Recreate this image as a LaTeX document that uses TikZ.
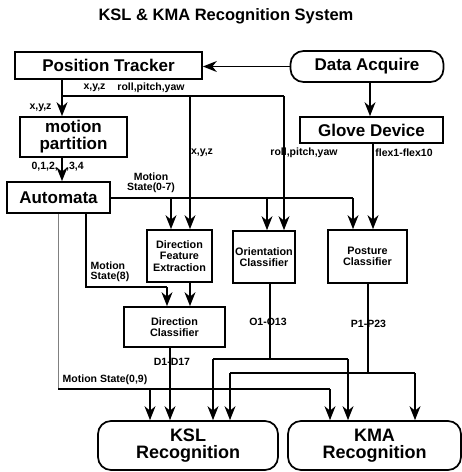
\documentclass[tikz,border=0pt]{standalone}
\usepackage{fontspec}
\setmainfont{Liberation Sans}
\usetikzlibrary{arrows.meta,calc}
\begin{document}
\begin{tikzpicture}[x=1pt,y=-1pt,
  box/.style={draw,line width=1.7pt,inner sep=0pt,align=center},
  bigtxt/.style={font=\fontsize{17}{17}\selectfont\bfseries},
  rectxt/.style={font=\fontsize{18}{17}\selectfont\bfseries},
  midtxt/.style={font=\fontsize{10.8}{11.5}\selectfont\bfseries},
  lbl/.style={font=\fontsize{10.5}{10.5}\selectfont\bfseries,inner sep=0pt,align=left},
  ln/.style={line width=1.4pt},
  arr/.style={ln,-{Stealth[length=14pt,width=11pt,inset=4.5pt]}},
  rbox/.style={box,rounded corners=13pt}
]
\useasboundingbox (0,0) rectangle (462,472);

\node[font=\fontsize{16.5}{17}\selectfont\bfseries] (title) at (226,16) {KSL \& KMA Recognition System};

\node[box,bigtxt,minimum width=187pt,minimum height=27pt] (pt) at (108.5,65.5) {Position Tracker};
\node[rbox,bigtxt,minimum width=153pt,minimum height=31pt] (da) at (367,66.5) {Data Acquire};
\node[box,bigtxt,minimum width=143pt,minimum height=26pt] (gd) at (371.5,130) {Glove Device};
\node[box,bigtxt,minimum width=107pt,minimum height=40pt] (mp) at (73.5,137) {motion\\partition};
\node[box,bigtxt,minimum width=103pt,minimum height=31pt] (au) at (58.5,197.5) {Automata};
\node[box,midtxt,minimum width=65pt,minimum height=52pt] (dfe) at (179.5,256) {Direction\\Feature\\Extraction};
\node[box,midtxt,minimum width=62pt,minimum height=52pt] (oc) at (264,257) {Orientation\\Classifier};
\node[box,midtxt,minimum width=79pt,minimum height=53pt] (pc) at (367.5,256.5) {Posture\\Classifier};
\node[box,midtxt,minimum width=101pt,minimum height=40pt] (dc) at (174.5,327) {Direction\\Classifier};
\node[rbox,rectxt,minimum width=180pt,minimum height=49pt] (ksl) at (188,445.5) {KSL\\Recognition};
\node[rbox,rectxt,minimum width=173pt,minimum height=49pt] (kma) at (374.5,445.5) {KMA\\Recognition};

% guide coordinates
\coordinate (j1) at (62,96);
\coordinate (j2) at (190,96);
\coordinate (j3) at (284,96);
\coordinate (xda) at (370,0);
\coordinate (xgd) at (373,0);
\coordinate (b1) at (171,198);
\coordinate (b2) at (267,198);
\coordinate (b3) at (353,198);
\coordinate (a8) at (86,287);
\coordinate (a8b) at (167,287);
\coordinate (g1) at (58,389);
\coordinate (g2) at (150,389);
\coordinate (g3) at (330,389);
\coordinate (xd) at (170,0);
\coordinate (o0) at (270,359);
\coordinate (o1) at (213,359);
\coordinate (o2) at (348,359);
\coordinate (p0) at (368,373);
\coordinate (p1) at (230,373);
\coordinate (p2) at (415,373);

% data acquire
\draw[arr] (da.west) -- (da.west -| pt.east);
\draw[arr] (da.south -| xda) -- (gd.north -| xda);
\draw[arr] (gd.south -| xgd) -- (pc.north -| xgd);

% position tracker outputs
\draw[ln] (pt.south -| j1) -- (j1) -- (j3);
\draw[arr] (j1) -- (j1 |- mp.north);
\draw[arr] (j2) -- (j2 |- dfe.north);
\draw[arr] (j3) -- (j3 |- oc.north);

% motion partition -> automata
\draw[arr] (mp.south -| j1) -- (au.north -| j1);

% automata bus
\draw[ln] (au.east |- b1) -- (b3);
\draw[arr] (b1) -- (b1 |- dfe.north);
\draw[arr] (b2) -- (b2 |- oc.north);
\draw[arr] (b3) -- (b3 |- pc.north);

% motion state 8
\draw[ln] (au.south -| a8) -- (a8) -- (a8b);
\draw[arr] (a8b) -- (a8b |- dc.north);
\draw[arr] (dfe.south -| j2) -- (dc.north -| j2);

% motion state 0,9
\draw[line width=0.7pt,gray] (au.south -| g1) -- (g1);
\draw[ln] (g1) -- (g3);
\draw[arr] (g2) -- (g2 |- ksl.north);
\draw[arr] (g3) -- (g3 |- kma.north);

% direction classifier
\draw[arr] (dc.south -| xd) -- (ksl.north -| xd);

% orientation
\draw[ln] (oc.south -| o0) -- (o0);
\draw[ln] (o1) -- (o2);
\draw[arr] (o1) -- (o1 |- ksl.north);
\draw[arr] (o2) -- (o2 |- kma.north);

% posture
\draw[ln] (pc.south -| p0) -- (p0);
\draw[ln] (p1) -- (p2);
\draw[arr] (p1) -- (p1 |- ksl.north);
\draw[arr] (p2) -- (p2 |- kma.north);

% labels
\node[lbl] (l1) at (94.5,88) {x,y,z};
\node[lbl] (l2) at (151,88) {roll,pitch,yaw};
\node[lbl] (l3) at (40.5,108) {x,y,z};
\node[lbl] (l4) at (202,153) {x,y,z};
\node[lbl] (l5) at (304,153) {roll,pitch,yaw};
\node[lbl] (l6) at (404,153) {flex1-flex10};
\node[lbl,anchor=east] (l7) at (58,167) {0,1,2,};
\node[lbl,anchor=west] (l8) at (66,167) {,3,4};
\node[lbl,align=center] (l9) at (151,183) {Motion\\State(0-7)};
\node[lbl] (l10) at (110,272) {Motion\\State(8)};
\node[lbl] (l11) at (105,380) {Motion State(0,9)};
\node[lbl] (l12) at (172,362) {D1-D17};
\node[lbl] (l13) at (268,322) {O1-O13};
\node[lbl] (l14) at (368.5,324) {P1-P23};
\end{tikzpicture}
\end{document}
